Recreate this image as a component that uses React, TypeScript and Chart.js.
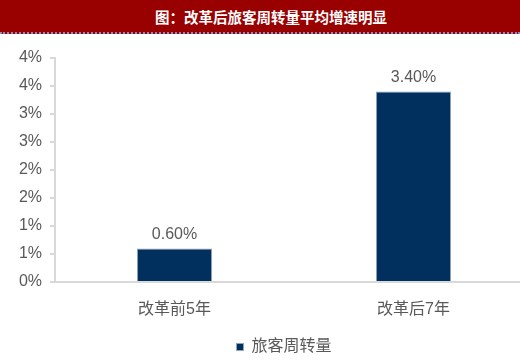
import React, { useEffect, useRef } from "react";
import { Chart, registerables } from "chart.js";

Chart.register(...registerables);

const titleText = "图：改革后旅客周转量平均增速明显";
const categories = ["改革前5年", "改革后7年"];
const seriesName = "旅客周转量";
const seriesValues = [0.6, 3.4];
const tickLabels = ["0%", "1%", "1%", "2%", "2%", "3%", "3%", "4%", "4%"];

const FONT = "'Liberation Sans', Arial, 'Noto Sans CJK SC', sans-serif";
const TEXT_GRAY = "#595959";
const AXIS_GRAY = "#d9d9d9";
const BAR_BLUE = "#01305f";

const valueLabels = {
  id: "valueLabels",
  afterDatasetsDraw(chart: any) {
    const ctx = chart.ctx;
    const meta = chart.getDatasetMeta(0);
    ctx.save();
    ctx.font = `16px ${FONT}`;
    ctx.fillStyle = TEXT_GRAY;
    ctx.textAlign = "center";
    ctx.textBaseline = "bottom";
    meta.data.forEach((bar: any, i: number) => {
      const v = chart.data.datasets[0].data[i] as number;
      ctx.fillText(`${v.toFixed(2)}%`, bar.x, bar.y - 6);
    });
    ctx.restore();
  },
};

// Nudge the legend slightly left of the plot-area centre.
const legendNudge = {
  id: "legendNudge",
  afterLayout(chart: any) {
    if (chart.legend) {
      chart.legend.left -= 10;
      chart.legend.right -= 10;
    }
  },
};

export default function App() {
  const canvasRef = useRef<HTMLCanvasElement | null>(null);

  useEffect(() => {
    document.body.style.margin = "0";
    const chart = new Chart(canvasRef.current as HTMLCanvasElement, {
      type: "bar",
      data: {
        labels: categories,
        datasets: [
          {
            label: seriesName,
            data: seriesValues,
            backgroundColor: BAR_BLUE,
            borderColor: "#8fa2bb",
            borderWidth: 1,
            categoryPercentage: 1,
            barPercentage: 0.314,
          },
        ],
      },
      options: {
        animation: false,
        responsive: false,
        maintainAspectRatio: false,
        layout: { padding: { top: 22, left: 0, right: 0, bottom: 0 } },
        plugins: {
          tooltip: { enabled: false },
          legend: {
            position: "bottom",
            fullSize: false,
            labels: {
              boxWidth: 7,
              boxHeight: 7,
              padding: 9,
              color: TEXT_GRAY,
              font: { size: 16, family: FONT },
            },
          },
        },
        scales: {
          x: {
            afterFit: (scale: any) => {
              scale.height = 48;
            },
            grid: { display: false },
            border: { display: true, color: AXIS_GRAY, width: 2 },
            ticks: {
              color: TEXT_GRAY,
              padding: 10,
              font: { size: 16, family: FONT },
            },
          },
          y: {
            min: 0,
            max: 4,
            afterFit: (scale: any) => {
              scale.width = 55;
            },
            grid: {
              drawOnChartArea: false,
              drawTicks: true,
              tickLength: 5,
              color: AXIS_GRAY,
              lineWidth: 2,
            },
            border: { display: true, color: AXIS_GRAY, width: 2 },
            ticks: {
              stepSize: 0.5,
              padding: 8,
              color: TEXT_GRAY,
              font: { size: 16, family: FONT },
              callback: (_v: any, i: number) => tickLabels[i],
            },
          },
        },
      },
      plugins: [valueLabels, legendNudge],
    });
    return () => chart.destroy();
  }, []);

  return (
    <div
      style={{
        position: "fixed",
        left: 0,
        top: 0,
        width: 520,
        height: 362,
        overflow: "hidden",
        background: "#fff",
      }}
    >
      <div
        style={{
          position: "absolute",
          left: 0,
          top: 0,
          width: 520,
          height: 34,
          background: "#990000",
          borderBottom: "2px dotted #8c8cc0",
          color: "#fff",
          fontFamily: "'Noto Sans CJK SC', sans-serif",
          fontWeight: 700,
          fontSize: 14.5,
          lineHeight: "33px",
          textAlign: "center",
          paddingLeft: 22,
          boxSizing: "border-box",
        }}
      >
        {titleText}
      </div>
      <canvas
        ref={canvasRef}
        width={533}
        height={329}
        style={{ position: "absolute", left: 0, top: 36 }}
      />
    </div>
  );
}
